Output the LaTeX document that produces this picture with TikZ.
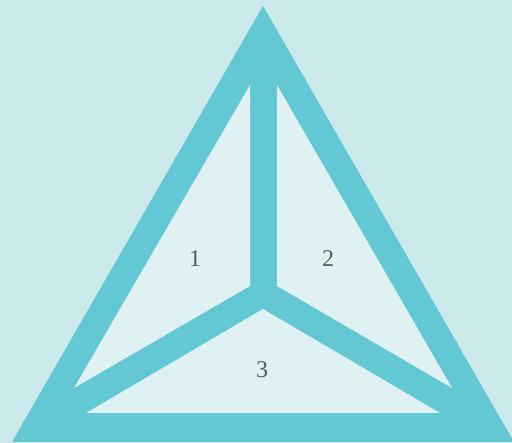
\documentclass[tikz,border=0pt]{standalone}
\usepackage{tikz}
\usepackage{fontspec}
\setmainfont{Liberation Serif}
\usetikzlibrary{positioning}
\definecolor{paper}{HTML}{CCE9EC}
\definecolor{frame}{HTML}{62C8D3}
\definecolor{cell}{HTML}{E0F1F4}
\definecolor{ink}{HTML}{5A5A5A}
\tikzset{
  framefill/.style={fill=frame,draw=none},
  cellfill/.style={fill=cell,draw=none},
  cellnum/.style={text=ink,font=\fontsize{24}{24}\selectfont,inner sep=0pt}
}
\begin{document}
\begin{tikzpicture}[x=1pt,y=-1pt]
  \fill[paper] (0,0) rectangle (512,443);
  \useasboundingbox (0,0) rectangle (512,443);
  \clip (0,0) rectangle (512,443);

  % outer frame
  \path[framefill] (263,6) -- (12,442) -- (514,442) -- cycle;

  % the three cells
  \path[cellfill] (250,85) -- (74,388) -- (250,286) -- cycle;
  \path[cellfill] (277,85) -- (452,388) -- (277,286) -- cycle;
  \path[cellfill] (263,309) -- (86,413) -- (440,413) -- cycle;

  \node[cellnum] (one) at (195,259) {1};
  \node[cellnum] (two) at (328,259) {2};
  \node[cellnum] (three) at (262,370) {3};
\end{tikzpicture}
\end{document}
